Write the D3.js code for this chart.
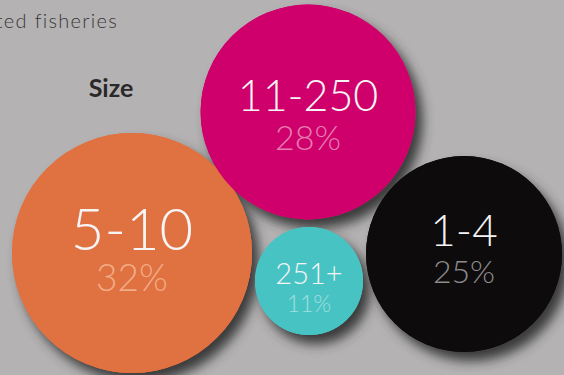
<!DOCTYPE html>
<html>
<head>
<meta charset="utf-8">
<script src="https://cdn.jsdelivr.net/npm/d3@7"></script>
<style>
  html, body { margin: 0; padding: 0; background: #b4b2b3; }
  svg { display: block; }
  text { font-family: "Lato", "Open Sans", "DejaVu Sans", sans-serif; }
</style>
</head>
<body>
<script>
// Fishery size classes (number of vessels) and their share
const categories = ["5-10", "11-250", "1-4", "251+"];
const shares = [32, 28, 25, 11];
const shareLabels = ["32%", "28%", "25%", "11%"];

// Bubble placement and look
const centers = [[132, 253], [308, 112], [464, 254], [309, 281]];
const fills = ["#e07140", "#cf006c", "#0d0b0c", "#48c3c3"];
const shareFills = ["#f2ab87", "#e77cb0", "#8e8c8d", "#a2dfdf"];
const nameSizes = [58, 43, 44, 29];
const shareSizes = [37, 34, 32, 23];
const nameDy = [-3, -1, -8, 3];
const shareDy = [38, 38, 29, 31];

const W = 564, H = 375;
const svg = d3.select("body").append("svg").attr("width", W).attr("height", H);

svg.append("rect").attr("width", W).attr("height", H).attr("fill", "#b4b2b3");

const defs = svg.append("defs");
const f = defs.append("filter").attr("id", "shadow")
  .attr("x", "-30%").attr("y", "-30%").attr("width", "160%").attr("height", "160%");
f.append("feDropShadow").attr("dx", 7).attr("dy", 9).attr("stdDeviation", 6)
  .attr("flood-color", "#333132").attr("flood-opacity", 0.95);

const r = d3.scaleLinear().domain([11, 32]).range([54, 120]);

const data = categories.map((c, i) => ({
  name: c, share: shares[i], label: shareLabels[i],
  cx: centers[i][0], cy: centers[i][1], i
}));

// shadows drawn first so every bubble sits above every shadow
svg.append("g").selectAll("circle").data(data).join("circle")
  .attr("cx", d => d.cx).attr("cy", d => d.cy).attr("r", d => r(d.share))
  .attr("fill", d => fills[d.i]).attr("filter", "url(#shadow)");

svg.append("g").selectAll("circle").data(data).join("circle")
  .attr("cx", d => d.cx).attr("cy", d => d.cy).attr("r", d => r(d.share))
  .attr("fill", d => fills[d.i]);

const lab = svg.append("g").selectAll("g").data(data).join("g");
lab.append("text")
  .attr("x", d => d.cx).attr("y", d => d.cy + nameDy[d.i])
  .attr("text-anchor", "middle").attr("font-weight", 300)
  .attr("font-size", d => nameSizes[d.i]).attr("fill", "#f6f4f5")
  .text(d => d.name);
lab.append("text")
  .attr("x", d => d.cx).attr("y", d => d.cy + shareDy[d.i])
  .attr("text-anchor", "middle").attr("font-weight", 300)
  .attr("font-size", d => shareSizes[d.i]).attr("fill", d => shareFills[d.i])
  .text(d => d.label);

svg.append("text").attr("x", 118).attr("y", 28).attr("text-anchor", "end")
  .attr("font-size", 20).attr("letter-spacing", 1.3)
  .attr("fill", "#3a3839").attr("font-weight", 300)
  .text("ted fisheries");

svg.append("text").attr("x", 111).attr("y", 97).attr("text-anchor", "middle")
  .attr("font-size", 25).attr("font-weight", 700).attr("fill", "#2a2829")
  .text("Size");
</script>
</body>
</html>
